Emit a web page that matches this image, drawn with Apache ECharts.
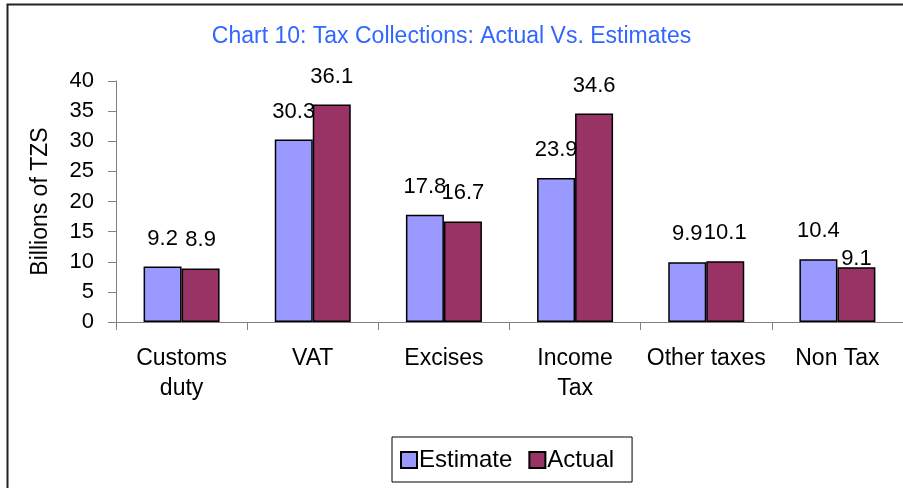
<!DOCTYPE html>
<html>
<head>
<meta charset="utf-8">
<script src="https://cdn.jsdelivr.net/npm/echarts@6/dist/echarts.min.js"></script>
<style>
  html, body { margin: 0; padding: 0; background: #fff; }
  #main { width: 903px; height: 488px; }
</style>
</head>
<body>
<div id="main"></div>
<script>
var categories = ['Customs\nduty', 'VAT', 'Excises', 'Income\nTax', 'Other taxes', 'Non Tax'];
var estimate = [9.2, 30.3, 17.8, 23.9, 9.9, 10.4];
var actual = [8.9, 36.1, 16.7, 34.6, 10.1, 9.1];
var yTicks = [0, 5, 10, 15, 20, 25, 30, 35, 40];

var font = 'Liberation Sans, Arial, sans-serif';
var chart = echarts.init(document.getElementById('main'));

var labelStyle = {
  show: true,
  position: 'top',
  distance: 17,
  color: '#000',
  fontSize: 22,
  fontFamily: font
};

var option = {
  animation: false,
  title: {
    text: 'Chart 10: Tax Collections: Actual Vs. Estimates',
    left: 'center',
    top: 20,
    textStyle: { color: '#3366ff', fontSize: 23, fontWeight: 'normal', fontFamily: font }
  },
  graphic: [{
    type: 'rect',
    shape: { x: 7.5, y: 4.5, width: 1000, height: 600 },
    style: { fill: 'none', stroke: '#222', lineWidth: 2 },
    silent: true
  }],
  legend: {
    left: 392,
    top: 437,
    itemWidth: 16,
    itemHeight: 16,
    itemGap: 16,
    padding: [11, 18, 10, 8],
    borderColor: '#000',
    borderWidth: 1,
    icon: 'rect',
    textStyle: { color: '#000', fontSize: 24, fontFamily: font, padding: [0, 0, 0, -3] },
    data: ['Estimate', 'Actual']
  },
  grid: { left: 116, top: 81, width: 790, height: 241 },
  xAxis: {
    type: 'category',
    data: categories,
    axisLine: { lineStyle: { color: '#808080', width: 1 } },
    axisTick: { show: true, length: 8, lineStyle: { color: '#808080' } },
    axisLabel: { color: '#000', fontSize: 23, fontFamily: font, margin: 22, lineHeight: 30, interval: 0 }
  },
  yAxis: {
    type: 'value',
    min: 0,
    max: yTicks[yTicks.length - 1],
    interval: 5,
    name: 'Billions of TZS',
    nameLocation: 'middle',
    nameRotate: 90,
    nameGap: 64,
    nameTextStyle: { color: '#000', fontSize: 23, fontFamily: font },
    splitLine: { show: false },
    axisLine: { show: true, lineStyle: { color: '#808080', width: 1 } },
    axisTick: { show: true, length: 8, lineStyle: { color: '#808080' } },
    axisLabel: { color: '#000', fontSize: 22, fontFamily: font, margin: 22 }
  },
  series: [
    {
      name: 'Estimate',
      type: 'bar',
      data: estimate,
      barWidth: 38,
      barGap: '0%',
      itemStyle: { color: '#9999ff', borderColor: '#000', borderWidth: 1.5 },
      label: labelStyle
    },
    {
      name: 'Actual',
      type: 'bar',
      data: actual.map(function (v, i) {
        if (i === actual.length - 1) {
          return { value: v, label: { distance: -3 } };
        }
        return v;
      }),
      barWidth: 38,
      itemStyle: { color: '#993366', borderColor: '#000', borderWidth: 1.5 },
      label: labelStyle
    }
  ]
};

chart.setOption(option);
</script>
</body>
</html>
